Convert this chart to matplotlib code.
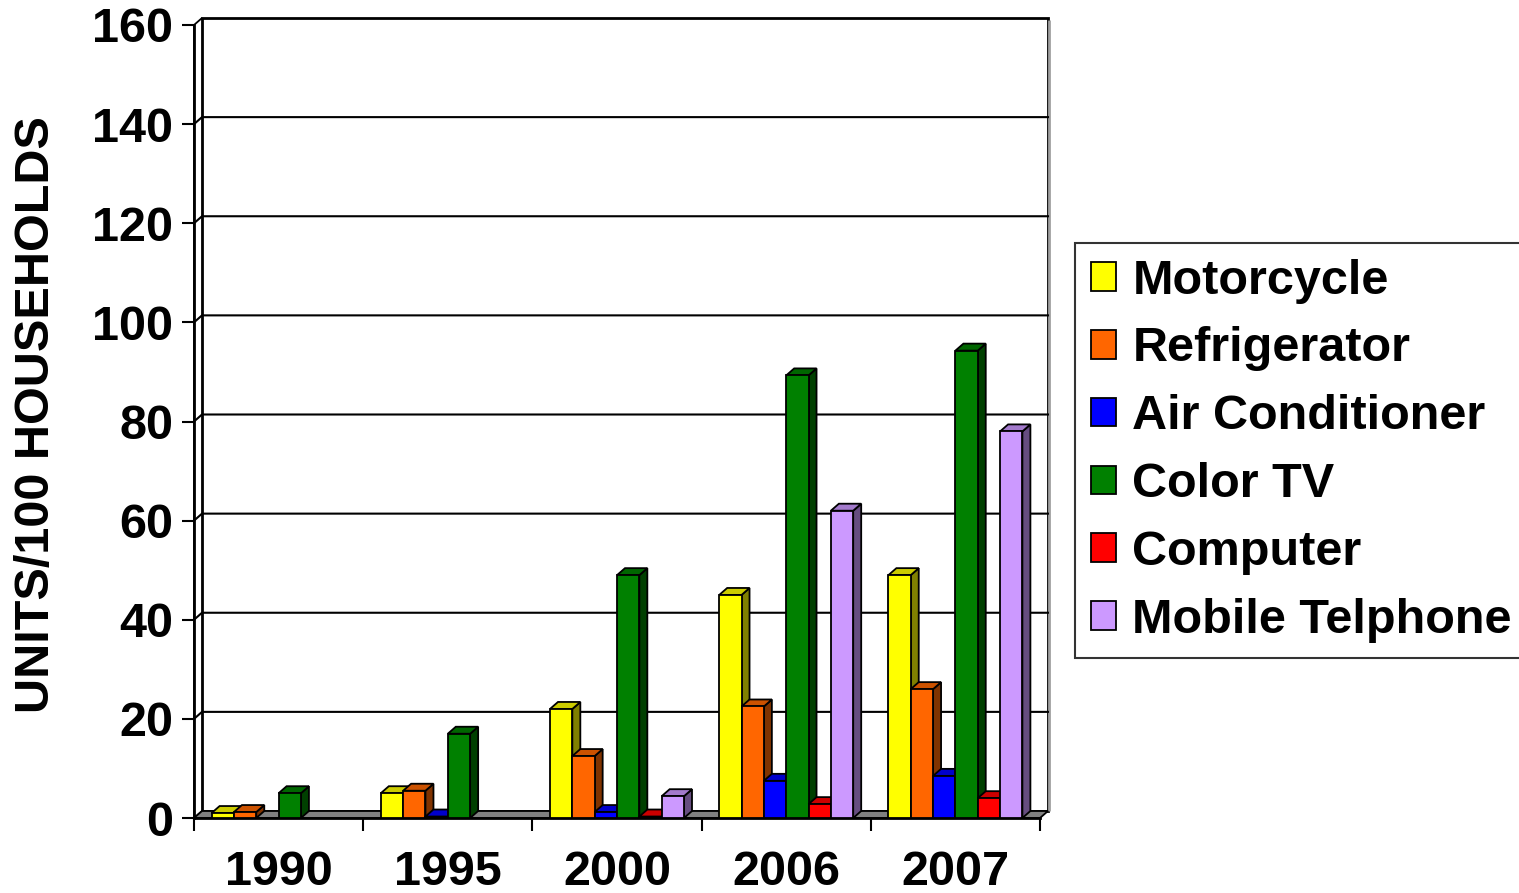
import numpy as np
import matplotlib.pyplot as plt
from matplotlib.patches import Polygon, Rectangle, Patch

plt.rcParams['font.family'] = ['Liberation Sans', 'DejaVu Sans']
plt.rcParams['font.weight'] = 'bold'

# data
years = ['1990', '1995', '2000', '2006', '2007']
series = ['Motorcycle', 'Refrigerator', 'Air Conditioner', 'Color TV',
          'Computer', 'Mobile Telphone']
motorcycle = [1.0, 5.0, 22.0, 45.0, 49.0]
refrigerator = [1.2, 5.5, 12.5, 22.5, 26.0]
air_conditioner = [0.0, 0.3, 1.2, 7.5, 8.5]
color_tv = [5.0, 17.0, 49.0, 89.3, 94.3]
computer = [0.0, 0.0, 0.3, 2.8, 4.0]
mobile = [0.0, 0.0, 4.4, 62.0, 78.0]
values = [motorcycle, refrigerator, air_conditioner, color_tv, computer, mobile]

# front, top, side colours
face = ['#FFFF00', '#FF6600', '#0000FF', '#008000', '#FF0000', '#CC99FF']
top = ['#CCCC00', '#CC5200', '#0000CC', '#006600', '#CC0000', '#A37ACC']
side = ['#808000', '#803300', '#000080', '#004000', '#800000', '#664D80']

W, H = 1519, 893
fig = plt.figure(figsize=(W / 100, H / 100), dpi=100)

px_cat = (1040 - 194) / 5.0      # pixels per category
px_val = (818 - 25) / 160.0      # pixels per unit
dx = 8 / px_cat                  # depth offset in data units
dy = 7 / px_val
ymax = 160

left = 194 / W
bottom = (H - 818) / H
width = (5 + dx) * px_cat / W
height = (ymax + dy) * px_val / H
ax = fig.add_axes([left, bottom, width, height])
ax.set_xlim(-0.5, 4.5 + dx)
ax.set_ylim(0, ymax + dy)
ax.patch.set_visible(False)

lw = 1.3
# back wall, left wall, floor
ax.add_patch(Rectangle((-0.5 + dx, dy), 5, ymax, facecolor='white',
                       edgecolor='black', lw=2, zorder=0, clip_on=False))
ax.add_patch(Polygon([(4.5 + dx + 0.006, dy), (4.5 + dx + 0.006, ymax + dy - 0.5)],
                     closed=False, edgecolor='#A0A0A0', lw=2, zorder=0, clip_on=False))
ax.add_patch(Polygon([(-0.5, 0), (-0.5 + dx, dy), (-0.5 + dx, ymax + dy), (-0.5, ymax)],
                     facecolor='white', edgecolor='black', lw=lw, zorder=1, clip_on=False))
for g in range(20, ymax, 20):
    ax.plot([-0.5, -0.5 + dx, 4.5 + dx], [g, g + dy, g + dy], color='black',
            lw=1.5, zorder=1, clip_on=False)
ax.add_patch(Polygon([(-0.5, 0), (4.5, 0), (4.5 + dx, dy), (-0.5 + dx, dy)],
                     facecolor='#808080', edgecolor='black', lw=lw, zorder=2, clip_on=False))

# 3d bars
n = len(series)
bw = 0.132
x = np.arange(len(years))
z = 3
for i in range(len(years)):
    for s in range(n):
        v = values[s][i]
        if v <= 0:
            continue
        x0 = x[i] - n * bw / 2 + s * bw
        ax.add_patch(Polygon([(x0 + bw, 0), (x0 + bw + dx, dy), (x0 + bw + dx, v + dy), (x0 + bw, v)],
                             facecolor=side[s], edgecolor='black', lw=lw, zorder=z, clip_on=False))
        ax.add_patch(Polygon([(x0, v), (x0 + bw, v), (x0 + bw + dx, v + dy), (x0 + dx, v + dy)],
                             facecolor=top[s], edgecolor='black', lw=lw, zorder=z, clip_on=False))
        ax.bar(x0, v, bw, align='edge', color=face[s], edgecolor='black', lw=lw,
               zorder=z + 0.5, clip_on=False)
        z += 1

# axes
for sp in ['top', 'right']:
    ax.spines[sp].set_visible(False)
ax.spines['left'].set_bounds(0, ymax)
ax.spines['bottom'].set_bounds(-0.5, 4.5)
ax.spines['left'].set_linewidth(2)
ax.spines['bottom'].set_linewidth(2)
ax.spines['left'].set_zorder(2.5)
ax.spines['bottom'].set_zorder(2.5)

ax.set_yticks(range(0, ymax + 1, 20))
ax.tick_params(axis='y', length=9, width=1.5, labelsize=35, pad=6)
ax.set_xticks(x)
ax.set_xticklabels(years)
ax.tick_params(axis='x', which='major', length=0, labelsize=35, pad=23)
ax.set_xticks(np.arange(-0.5, 5, 1.0), minor=True)
ax.tick_params(axis='x', which='minor', length=9, width=1.5)
for lab in ax.get_xticklabels() + ax.get_yticklabels():
    lab.set_fontweight('bold')

fig.text(37 / W, 1 - 415 / H, 'UNITS/100 HOUSEHOLDS', rotation=90, fontsize=35,
         fontweight='bold', ha='center', va='center')

handles = [Patch(facecolor=face[s], edgecolor='black', lw=1.3) for s in range(n)]
leg = fig.legend(handles, series, loc='upper left',
                 bbox_to_anchor=(1075 / W, 1 - 243 / H),
                 prop={'weight': 'bold', 'size': 35},
                 frameon=True, fancybox=False, edgecolor='black',
                 handlelength=0.53, handleheight=0.53, handletextpad=0.33,
                 labelspacing=0.47, borderpad=0.32, borderaxespad=0)
leg.get_frame().set_linewidth(1.5)

fig.savefig('out.png', dpi=100)
